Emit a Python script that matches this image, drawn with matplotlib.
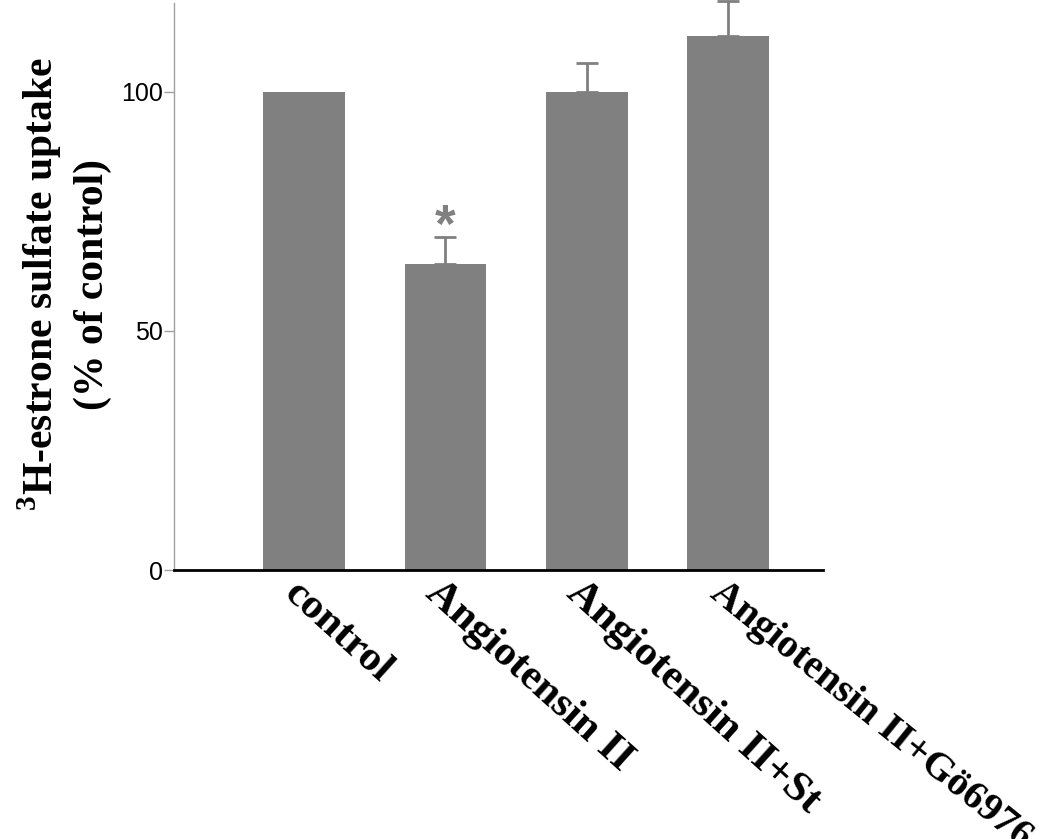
import numpy as np
import matplotlib
matplotlib.use('Agg')
import matplotlib.pyplot as plt
from matplotlib.transforms import ScaledTranslation

# data
groups = ["control", "Angiotensin II", "Angiotensin II+St", "Angiotensin II+Gö6976"]
uptake = [100.0, 64.0, 99.9, 111.7]
sem = [0.0, 5.6, 6.2, 7.3]
significant = [False, True, False, False]
label_angle = [-42, -42, -42, -39]
label_size = [31, 31, 31, 29]

plt.rcParams['mathtext.fontset'] = 'custom'
plt.rcParams['mathtext.bf'] = 'Liberation Serif:bold'
plt.rcParams['mathtext.rm'] = 'Liberation Serif:bold'

fig = plt.figure(figsize=(10.5, 8.39), dpi=100)
ax = fig.add_axes([174/1050, 1 - 570/839, 649/1050, 567/839])

x = np.arange(len(groups))
bar_col = "#808080"
ax.bar(x, uptake, width=0.58, color=bar_col, zorder=2)

has_err = [i for i in x if sem[i] > 0]
ax.errorbar(x[has_err], np.array(uptake)[has_err],
            yerr=[np.zeros(len(has_err)), np.array(sem)[has_err]],
            fmt='none', ecolor=bar_col, elinewidth=2, capsize=8, capthick=2,
            clip_on=False, zorder=3)

for i in x:
    if significant[i]:
        ax.annotate("*", (i, uptake[i] + sem[i]), xytext=(0, -11),
                    textcoords='offset points', ha='center', va='bottom',
                    fontsize=38, fontweight='bold', color=bar_col,
                    family='Liberation Sans')

ax.set_xlim(-0.923, 3.674)
ax.set_ylim(0, 118.6)

ax.spines['top'].set_visible(False)
ax.spines['right'].set_visible(False)
ax.spines['left'].set_color('#a0a0a0')
ax.spines['left'].set_linewidth(1.0)
ax.spines['bottom'].set_color('black')
ax.spines['bottom'].set_linewidth(2.0)
ax.spines['bottom'].set_zorder(4)

ax.set_yticks([0, 50, 100])
ax.tick_params(axis='y', length=7, width=1, color='#a0a0a0', pad=1,
               labelsize=18)
for lab in ax.get_yticklabels():
    lab.set_family('Liberation Sans')

ax.set_xticks(x)
ax.set_xticklabels(groups, ha='left', va='top',
                   rotation_mode='anchor', family='Liberation Serif',
                   fontweight='bold', fontsize=31)
ax.tick_params(axis='x', length=0, pad=3)
shift = ScaledTranslation(-2/100, 0, fig.dpi_scale_trans)
for lab, ang, fs in zip(ax.get_xticklabels(), label_angle, label_size):
    lab.set_rotation(ang)
    lab.set_fontsize(fs)
    lab.set_transform(lab.get_transform() + shift)

fig.text(64/1050, 1 - 284/839,
         "$^{3}$H-estrone sulfate uptake\n(% of control)",
         rotation=90, ha='center', va='center', multialignment='center',
         family='Liberation Serif', fontweight='bold', fontsize=30,
         linespacing=1.32)

fig.savefig("out.png", dpi=100)
